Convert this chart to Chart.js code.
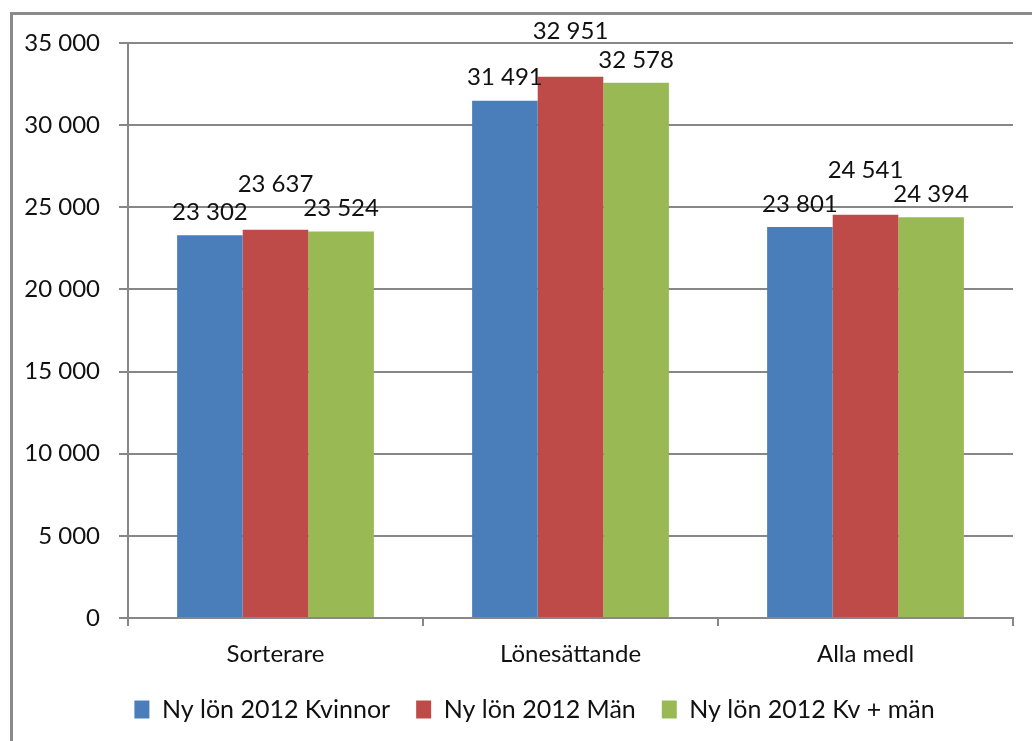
<!DOCTYPE html>
<html>
<head>
<meta charset="utf-8">
<script src="https://cdn.jsdelivr.net/npm/chart.js@4"></script>
<style>
  html, body { margin: 0; padding: 0; background: #fff; }
  #wrap { width: 1032px; height: 741px; position: relative; }
</style>
</head>
<body>
<div id="wrap"><canvas id="chart" width="1032" height="741"></canvas></div>
<script>
// Categories and series
const categories = ["Sorterare", "Lönesättande", "Alla medl"];
const seriesNames = ["Ny lön 2012 Kvinnor", "Ny lön 2012 Män", "Ny lön 2012 Kv + män"];
const kvinnor = [23302, 31491, 23801];
const man = [23637, 32951, 24541];
const kvOchMan = [23524, 32578, 24394];
const yTicks = [0, 5000, 10000, 15000, 20000, 25000, 30000, 35000];

const colors = ["#4a7ebb", "#be4b48", "#98b954"];
const labelLift = [6, 28, 6]; // extra lift of value labels per series, like the original

const font = "Lato, 'Open Sans', sans-serif";
const fmt = v => String(v).replace(/\B(?=(\d{3})+(?!\d))/g, " ");

// frame around the whole chart, legend nudged right like the original
const framePlugin = {
  id: "frame",
  afterLayout(chart) {
    if (chart.legend) {
      chart.legend.left += 28;
      chart.legend.right += 28;
    }
  },
  beforeDraw(chart) {
    const ctx = chart.ctx;
    ctx.save();
    ctx.fillStyle = "#fff";
    ctx.fillRect(0, 0, chart.width, chart.height);
    ctx.strokeStyle = "#8a8a8a";
    ctx.lineWidth = 3;
    ctx.strokeRect(11.5, 13.5, chart.width + 20, chart.height + 20);
    ctx.restore();
  }
};

// value labels above bars
const valueLabels = {
  id: "valueLabels",
  afterDatasetsDraw(chart) {
    const ctx = chart.ctx;
    ctx.save();
    ctx.font = "24px " + font;
    ctx.fillStyle = "#111";
    ctx.textAlign = "center";
    ctx.textBaseline = "bottom";
    chart.data.datasets.forEach((ds, i) => {
      chart.getDatasetMeta(i).data.forEach((bar, j) => {
        ctx.fillText(fmt(ds.data[j]), bar.x, bar.y - 5 - labelLift[i]);
      });
    });
    ctx.restore();
  }
};

new Chart(document.getElementById("chart"), {
  type: "bar",
  data: {
    labels: categories,
    datasets: [
      { label: seriesNames[0], data: kvinnor, backgroundColor: colors[0] },
      { label: seriesNames[1], data: man, backgroundColor: colors[1] },
      { label: seriesNames[2], data: kvOchMan, backgroundColor: colors[2] }
    ]
  },
  options: {
    responsive: false,
    animation: false,
    layout: { padding: { left: 0, top: 43, right: 19, bottom: 9 } },
    datasets: { bar: { categoryPercentage: 0.667, barPercentage: 1.0 } },
    plugins: {
      legend: {
        position: "bottom",
        labels: {
          font: { family: font, size: 25 },
          color: "#111",
          boxWidth: 15,
          boxHeight: 18,
          padding: 26
        }
      },
      tooltip: { enabled: false }
    },
    scales: {
      x: {
        grid: {
          display: true,
          drawOnChartArea: false,
          offset: true,
          color: "#878787",
          lineWidth: 2,
          tickLength: 8
        },
        border: { color: "#878787", width: 2 },
        ticks: { font: { family: font, size: 24 }, color: "#111", padding: 14 },
        afterFit(scale) { scale.height = 53; }
      },
      y: {
        min: 0,
        max: 35000,
        afterBuildTicks(scale) { scale.ticks = yTicks.map(v => ({ value: v })); },
        grid: { color: "#878787", lineWidth: 2, tickLength: 9 },
        border: { color: "#878787", width: 2 },
        ticks: {
          font: { family: font, size: 24 },
          color: "#111",
          padding: 19,
          callback: v => fmt(v)
        },
        afterFit(scale) { scale.width = 128; }
      }
    }
  },
  plugins: [framePlugin, valueLabels]
});
</script>
</body>
</html>
